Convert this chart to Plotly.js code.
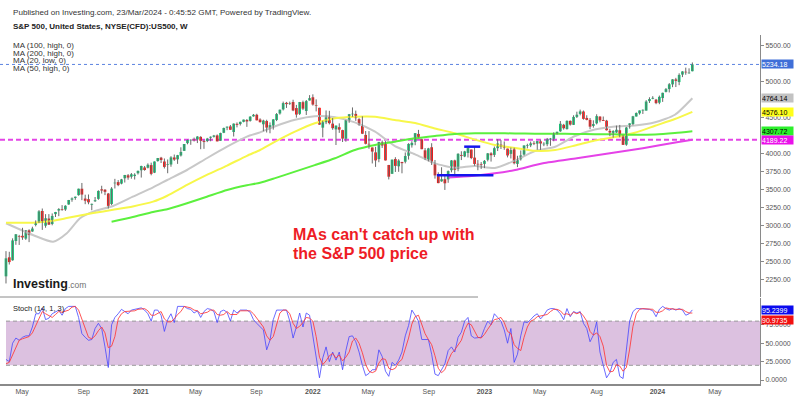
<!DOCTYPE html>
<html><head><meta charset="utf-8">
<script src="https://cdn.plot.ly/plotly-3.0.1.min.js"></script>
<style>html,body{margin:0;padding:0;background:#fff;}#chart{width:800px;height:399px;}</style>
</head><body><div id="chart"></div>
<script>
// ---------- DATA (weekly S&P 500 CFD) ----------
const weeks = [
'2020-03-23','2020-03-30','2020-04-06','2020-04-13','2020-04-20','2020-04-27','2020-05-04','2020-05-11','2020-05-18','2020-05-25','2020-06-01','2020-06-08','2020-06-15','2020-06-22','2020-06-29','2020-07-06','2020-07-13','2020-07-20','2020-07-27','2020-08-03','2020-08-10','2020-08-17','2020-08-24','2020-08-31','2020-09-07','2020-09-14','2020-09-21','2020-09-28','2020-10-05','2020-10-12','2020-10-19','2020-10-26','2020-11-02','2020-11-09','2020-11-16','2020-11-23','2020-11-30','2020-12-07','2020-12-14','2020-12-21','2020-12-28',
'2021-01-04','2021-01-11','2021-01-18','2021-01-25','2021-02-01','2021-02-08','2021-02-15','2021-02-22','2021-03-01','2021-03-08','2021-03-15','2021-03-22','2021-03-29','2021-04-05','2021-04-12','2021-04-19','2021-04-26','2021-05-03','2021-05-10','2021-05-17','2021-05-24','2021-05-31','2021-06-07','2021-06-14','2021-06-21','2021-06-28','2021-07-05','2021-07-12','2021-07-19','2021-07-26','2021-08-02','2021-08-09','2021-08-16','2021-08-23','2021-08-30','2021-09-06','2021-09-13','2021-09-20','2021-09-27','2021-10-04','2021-10-11','2021-10-18','2021-10-25','2021-11-01','2021-11-08','2021-11-15','2021-11-22','2021-11-29','2021-12-06','2021-12-13','2021-12-20','2021-12-27',
'2022-01-03','2022-01-10','2022-01-17','2022-01-24','2022-01-31','2022-02-07','2022-02-14','2022-02-21','2022-02-28','2022-03-07','2022-03-14','2022-03-21','2022-03-28','2022-04-04','2022-04-11','2022-04-18','2022-04-25','2022-05-02','2022-05-09','2022-05-16','2022-05-23','2022-05-30','2022-06-06','2022-06-13','2022-06-20','2022-06-27','2022-07-04','2022-07-11','2022-07-18','2022-07-25','2022-08-01','2022-08-08','2022-08-15','2022-08-22','2022-08-29','2022-09-05','2022-09-12','2022-09-19','2022-09-26','2022-10-03','2022-10-10','2022-10-17','2022-10-24','2022-10-31','2022-11-07','2022-11-14','2022-11-21','2022-11-28','2022-12-05','2022-12-12','2022-12-19','2022-12-26',
'2023-01-02','2023-01-09','2023-01-16','2023-01-23','2023-01-30','2023-02-06','2023-02-13','2023-02-20','2023-02-27','2023-03-06','2023-03-13','2023-03-20','2023-03-27','2023-04-03','2023-04-10','2023-04-17','2023-04-24','2023-05-01','2023-05-08','2023-05-15','2023-05-22','2023-05-29','2023-06-05','2023-06-12','2023-06-19','2023-06-26','2023-07-03','2023-07-10','2023-07-17','2023-07-24','2023-07-31','2023-08-07','2023-08-14','2023-08-21','2023-08-28','2023-09-04','2023-09-11','2023-09-18','2023-09-25','2023-10-02','2023-10-09','2023-10-16','2023-10-23','2023-10-30','2023-11-06','2023-11-13','2023-11-20','2023-11-27','2023-12-04','2023-12-11','2023-12-18','2023-12-25',
'2024-01-01','2024-01-08','2024-01-15','2024-01-22','2024-01-29','2024-02-05','2024-02-12','2024-02-19','2024-02-26','2024-03-04','2024-03-11','2024-03-18'];

const open = [
2291,2555,2514,2782,2845,2854,2815,2930,2914,3005,3038,3199,2994,3094,3018,3155,3205,3224,3219,3289,3356,3380,3419,3508,3371,3363,3285,3334,3367,3500,3494,3441,3296,3583,3600,3579,3653,3694,3675,3684,3723,
3764,3803,3799,3836,3731,3892,3939,3886,3842,3844,3942,3916,3969,4034,4141,4179,4185,4192,4228,4169,4170,4216,4229,4248,4174,4285,4356,4373,4296,4409,4406,4437,4462,4450,4513,4535,4469,4403,4448,4348,4385,4463,4553,4610,4701,4689,4712,4628,4548,4710,4588,4733,
4778,4669,4632,4356,4431,4505,4412,4332,4363,4322,4202,4462,4541,4547,4474,4385,4255,4130,4081,4013,3919,4151,4134,3838,3715,3920,3819,3880,3883,3966,4112,4158,4269,4195,4041,3909,4084,3849,3682,3610,3640,3638,3765,3901,3780,3977,3956,4005,4052,3940,3853,3843,
3853,3910,3999,3978,4071,4120,4097,4065,3992,4055,3853,3917,3982,4102,4110,4140,4134,4166,4124,4126,4190,4201,4282,4305,4396,4337,4450,4395,4506,4547,4580,4491,4464,4380,4416,4510,4462,4453,4311,4284,4289,4320,4238,4120,4364,4406,4511,4555,4594,4593,4725,4758,
4745,4703,4767,4853,4892,4957,5026,4989,5093,5133,5111,5140];

const high = [
2641,2632,2819,2879,2867,2965,2934,2945,2980,3068,3211,3233,3155,3155,3165,3186,3238,3280,3279,3352,3387,3399,3509,3588,3425,3428,3301,3393,3486,3549,3502,3449,3530,3645,3628,3644,3699,3712,3726,3723,3760,
3827,3823,3860,3870,3887,3935,3950,3928,3914,3960,3983,3978,4083,4129,4191,4194,4218,4238,4237,4188,4214,4234,4255,4262,4286,4356,4372,4393,4415,4429,4440,4468,4476,4516,4546,4549,4486,4466,4466,4429,4475,4559,4608,4718,4714,4718,4744,4672,4713,4731,4740,4808,
4819,4749,4632,4453,4595,4590,4489,4385,4416,4327,4465,4546,4637,4593,4488,4513,4309,4308,4081,4090,4158,4178,4169,3838,3913,3946,3918,3880,4012,4140,4168,4280,4325,4203,4073,4076,4140,3907,3736,3806,3686,3762,3905,3911,4001,4028,4034,4100,4052,4101,3906,3878,
3906,4004,4015,4094,4195,4182,4164,4065,4079,4078,3965,4039,4110,4133,4163,4169,4170,4186,4154,4213,4213,4291,4300,4448,4409,4458,4456,4528,4578,4607,4594,4528,4490,4458,4542,4514,4511,4464,4339,4321,4385,4394,4256,4366,4418,4520,4568,4595,4610,4738,4778,4793,
4755,4802,4842,4907,4975,5030,5048,5111,5140,5190,5180,5262];

const low = [
2192,2455,2508,2729,2727,2798,2797,2766,2909,2985,3031,2936,2966,3004,3000,3115,3127,3201,3200,3285,3327,3354,3411,3349,3293,3292,3209,3323,3354,3441,3419,3233,3280,3511,3543,3569,3594,3633,3647,3636,3705,
3663,3758,3790,3694,3725,3884,3865,3789,3723,3813,3894,3853,3955,4034,4125,4118,4164,4142,4057,4062,4155,4167,4219,4165,4174,4280,4321,4326,4233,4360,4386,4430,4367,4440,4509,4457,4428,4306,4289,4278,4329,4447,4537,4595,4630,4672,4585,4495,4532,4600,4532,4733,
4662,4582,4395,4222,4405,4401,4327,4115,4284,4157,4161,4424,4507,4450,4381,4267,4124,4063,3859,3811,3876,4074,3900,3637,3715,3741,3743,3722,3860,3913,4079,4112,4218,4057,3906,3887,3838,3648,3584,3605,3491,3590,3735,3698,3750,3906,3946,3942,3918,3827,3765,3783,
3794,3888,3885,3949,4031,4060,4048,3943,3928,3846,3808,3899,3970,4069,4086,4114,4049,4048,4099,4098,4104,4167,4261,4298,4329,4328,4385,4393,4490,4527,4467,4458,4335,4356,4401,4430,4448,4316,4238,4217,4284,4223,4116,4104,4342,4390,4510,4537,4546,4593,4699,4751,
4682,4682,4714,4845,4845,4918,4920,4946,5058,5091,5105,5138];

const close = [
2541,2489,2790,2875,2837,2831,2930,2864,2955,3044,3194,3041,3098,3009,3130,3185,3225,3216,3271,3351,3373,3397,3508,3427,3341,3319,3298,3348,3477,3483,3465,3270,3510,3585,3558,3638,3699,3663,3709,3703,3756,
3824,3768,3841,3714,3886,3934,3907,3811,3842,3943,3913,3974,4019,4129,4185,4180,4181,4233,4174,4156,4204,4230,4247,4166,4281,4352,4370,4327,4412,4395,4437,4468,4442,4509,4535,4458,4432,4455,4357,4391,4471,4545,4605,4697,4683,4698,4595,4538,4712,4620,4725,4766,
4677,4662,4398,4432,4500,4419,4349,4385,4329,4204,4463,4543,4546,4488,4393,4272,4132,4123,4024,3901,4158,4108,3901,3675,3912,3825,3899,3863,3962,4130,4145,4280,4228,4057,3924,4068,3873,3693,3586,3640,3583,3753,3901,3771,3993,3965,4026,4072,3934,3852,3845,3840,
3895,3999,3973,4071,4136,4090,4079,3970,4045,3862,3917,3971,4109,4105,4138,4133,4169,4136,4124,4192,4205,4282,4299,4410,4348,4450,4399,4505,4536,4582,4478,4464,4370,4406,4516,4457,4450,4320,4288,4309,4327,4224,4117,4358,4415,4514,4559,4595,4604,4719,4754,4770,
4697,4784,4840,4891,4959,5027,5006,5089,5137,5124,5117,5234.18];

// Moving averages at sample dates
const maDates = ['2020-03-23','2020-05-19','2020-07-01','2020-07-30','2020-08-27','2020-09-24','2020-11-05','2020-12-17','2021-01-29','2021-02-28','2021-04-11','2021-05-23','2021-07-05','2021-08-16','2021-09-13','2021-10-15','2021-11-26','2022-01-07','2022-02-19','2022-04-02','2022-05-15','2022-06-26','2022-08-08','2022-09-19','2022-10-31','2022-12-13','2023-01-24','2023-03-08','2023-04-19','2023-06-01','2023-07-13','2023-08-24','2023-10-06','2023-11-17','2023-12-30','2024-02-10','2024-03-18'];
const ma20Low = [3028,2865,2772,2889,3097,3189,3268,3397,3528,3629,3768,3931,4092,4231,4290,4375,4465,4515,4500,4430,4300,4100,3985,3860,3800,3823,3795,3900,4030,4090,4240,4330,4372,4385,4430,4535,4764.14];
const ma50High = [3036,3036,3064,3100,3135,3170,3215,3262,3328,3410,3560,3699,3830,3965,4046,4161,4300,4417,4486,4508,4508,4462,4420,4345,4278,4190,4115,4075,4035,4046,4108,4178,4226,4285,4382,4476,4576.10];
const ma100Dates = ['2020-11-02','2020-12-17','2021-01-29','2021-02-28','2021-04-11','2021-05-23','2021-07-05','2021-08-16','2021-09-13','2021-10-15','2021-11-26','2022-01-07','2022-02-19','2022-04-02','2022-05-15','2022-06-26','2022-08-08','2022-09-19','2022-10-31','2022-12-13','2023-01-24','2023-03-08','2023-04-19','2023-06-01','2023-07-13','2023-08-24','2023-10-06','2023-11-17','2023-12-30','2024-02-10','2024-03-18'];
const ma100High = [3050,3115,3185,3222,3306,3397,3490,3555,3590,3655,3745,3835,3931,4046,4115,4161,4208,4240,4268,4278,4278,4276,4273,4272,4268,4266,4264,4256,4262,4283,4307.72];
const ma200Dates = ['2022-10-17','2022-12-06','2023-01-24','2023-03-08','2023-05-06','2023-07-17','2023-09-25','2023-12-04','2024-02-14','2024-03-18'];
const ma200High = [3665,3685,3722,3768,3861,3931,4000,4070,4153,4189.22];

// Stochastic (14,1,3)
const stochK = [
28,25,50,57,54,58,60,60,72,90, 90,98,82,84,90,93,95,88,97,100, 100,100,85,63,58,54,55,70,77,70,
45,17,75,85,90,96,93,90,95,96, 98,98,95,90,80,95,95,88,66,82, 90,78,100,100,100,97,96,91,94,85,
93,97,96,93,78,93,95,92,80,95, 91,95,95,95,92,82,77,72,68,41, 54,82,95,95,95,95,80,57,72,91,
72,91,88,60,30,3,30,45,25,38, 27,38,14,40,59,60,52,38,20,6, 9,14,14,41,32,12,5,24,20,27,
38,60,74,95,88,80,55,55,55,35, 8,6,15,22,40,45,38,58,65,80, 85,60,57,57,58,70,80,75,90,85,
80,68,50,70,24,35,60,79,78,82, 87,90,83,88,95,97,97,95,90,82, 97,86,93,91,93,77,70,52,61,79,
38,20,3,10,24,28,5,2,45,80, 93,97,97,97,97,96,94,86,96,100, 97,95,97,95,97,95,88,90,95.2399];
const stochD = [
22,24,34,44,54,56,57,59,64,74, 84,93,90,88,85,89,93,92,93,95, 99,100,95,83,69,58,56,60,67,72,
64,44,46,59,83,90,93,93,93,94, 96,97,97,94,88,88,90,93,83,79, 79,83,89,93,100,99,98,95,94,90,
91,92,95,95,89,88,89,93,89,89, 89,94,94,95,94,90,84,77,72,60, 54,59,77,91,95,95,90,77,70,73,
78,85,84,80,59,31,21,26,33,36, 30,34,26,31,38,53,57,50,37,21, 12,10,12,23,29,28,16,14,16,24,
28,42,57,76,86,88,74,63,55,48, 33,16,10,14,26,36,41,47,54,68, 77,75,67,58,57,62,69,75,82,83,
85,78,66,63,48,43,40,58,72,80, 82,86,87,87,89,93,96,96,94,89, 90,88,92,90,92,87,80,66,61,64,
59,46,20,11,12,21,19,12,17,42, 73,90,96,97,97,97,96,92,92,94, 98,97,96,96,96,96,93,91,90.9735];
const stochBands = [20, 80];

// Hand-drawn blue levels on the chart
const drawnStart = ['2022-11-20','2022-09-23'];
const drawnEnd   = ['2022-12-24','2023-01-21'];
const drawnLevel = [4092, 3694];

// Axis ticks (labels hidden behind the value boxes in the reference are left out)
const priceTicks = [2250,2500,2750,3000,3250,3500,3750,4000,4500,5000,5500];
const stochTicks = [0,25,50,75];
const timeTickVals = ['2020-04-26','2020-09-04','2021-01-03','2021-04-29','2021-09-05','2022-01-03','2022-04-30','2022-09-06','2023-01-02','2023-04-29','2023-08-28','2024-01-04','2024-05-05'];
const timeTickText = ['May','Sep','<b>2021</b>','May','Sep','<b>2022</b>','May','Sep','<b>2023</b>','May','Aug','<b>2024</b>','May'];

// ---------- BUILD ----------
const xRange = ['2020-03-10 07:00','2024-08-08 12:00'];
const UP = '#12c878', DOWN = '#ff1010', WICK = '#6a6a6a';
const PX = 183280000; // ms per pixel on time axis (layout helper for bar widths)

const wx = [], wy = [];
weeks.forEach((d, i) => { wx.push(d, d, null); wy.push(low[i], high[i], null); });
const bodyBase = open.map((o, i) => Math.min(o, close[i]));
const bodyLen = open.map((o, i) => Math.max(Math.abs(close[i] - o), 9));
const bodyCol = open.map((o, i) => close[i] >= o ? UP : DOWN);

const line = (x, y, color, w, extra) => Object.assign({
  type: 'scatter', mode: 'lines', x, y, xaxis: 'x', yaxis: 'y', hoverinfo: 'skip',
  line: {color, width: w, shape: 'spline', smoothing: 0.6}
}, extra || {});

const traces = [
  line(maDates, ma20Low, '#c8c8c8', 2),
  line(maDates, ma50High, '#f7f74a', 2),
  line(ma100Dates, ma100High, '#5cf03e', 2),
  line(ma200Dates, ma200High, '#e542e8', 2),
  {type: 'scatter', mode: 'lines', x: wx, y: wy, xaxis: 'x', yaxis: 'y', hoverinfo: 'skip',
   line: {color: WICK, width: 1}, connectgaps: false},
  {type: 'bar', x: weeks, y: bodyLen, base: bodyBase, width: 2.7 * PX, xaxis: 'x', yaxis: 'y', hoverinfo: 'skip',
   marker: {color: bodyCol, line: {width: 0}}},
  {type: 'scatter', mode: 'lines', x: weeks, y: stochK, xaxis: 'x2', yaxis: 'y2', hoverinfo: 'skip',
   line: {color: 'rgba(70,70,255,0.8)', width: 1}},
  {type: 'scatter', mode: 'lines', x: weeks, y: stochD, xaxis: 'x2', yaxis: 'y2', hoverinfo: 'skip',
   line: {color: 'rgba(255,55,55,0.85)', width: 1}}
];

const lastClose = close[close.length - 1];
const shapes = [
  {type: 'rect', xref: 'x2', yref: 'y2', x0: weeks[0], x1: xRange[1], y0: stochBands[0], y1: stochBands[1],
   fillcolor: '#dcc1e0', line: {width: 0}, layer: 'below'},
  {type: 'line', xref: 'x2', yref: 'y2', x0: weeks[0], x1: xRange[1], y0: stochBands[0], y1: stochBands[0],
   line: {color: '#9a9a9a', width: 1, dash: '4px,3px'}, layer: 'below'},
  {type: 'line', xref: 'x2', yref: 'y2', x0: weeks[0], x1: xRange[1], y0: stochBands[1], y1: stochBands[1],
   line: {color: '#9a9a9a', width: 1, dash: '4px,3px'}, layer: 'below'},
  {type: 'line', xref: 'paper', yref: 'y', x0: 0, x1: 1, y0: lastClose, y1: lastClose,
   line: {color: '#5a82e0', width: 1, dash: 'dot'}, layer: 'below'},
  {type: 'line', xref: 'paper', yref: 'y', x0: 0, x1: 1, y0: ma200High[ma200High.length - 1], y1: ma200High[ma200High.length - 1],
   line: {color: '#e444e6', width: 2, dash: '5px,3px'}, layer: 'below'},
  {type: 'line', xref: 'paper', yref: 'paper', x0: 0, x1: 478 / 760, y0: 87 / 384, y1: 87 / 384,
   line: {color: '#8a8a8a', width: 1}}
];
drawnLevel.forEach((lv, i) => shapes.push({type: 'line', xref: 'x', yref: 'y', x0: drawnStart[i], x1: drawnEnd[i], y0: lv, y1: lv,
  line: {color: '#1414ee', width: 2.5}}));

const FONT = 'Arial, "Liberation Sans", sans-serif';
const ann = [];
const txt = (text, px, py, size, color, extra) => ann.push(Object.assign({
  text, x: px / 760, y: (384 - py) / 384, xref: 'paper', yref: 'paper', xanchor: 'left', yanchor: 'middle',
  showarrow: false, font: {family: FONT, size, color}
}, extra || {}));
txt('Published on Investing.com, 23/Mar/2024 - 0:45:52 GMT, Powered by TradingView.', 11, 13, 8.1, '#333');
txt('<b>S&P 500, United States, NYSE(CFD):US500, W</b>', 11, 26, 8.0, '#222');
txt('MA (100, high, 0)', 11, 45.6, 8, '#333');
txt('MA (200, high, 0)', 11, 53.3, 8, '#333');
txt('MA (20, low, 0)', 11, 61, 8, '#333');
txt('MA (50, high, 0)', 11, 68.6, 8, '#333');
txt('<b>MAs can\'t catch up with</b>', 291, 234.5, 16, '#ee1c25');
txt('<b>the S&P 500 price</b>', 291, 253.5, 16, '#ee1c25');
txt('<b>Investing</b><span style="font-size:8.5px;color:#707070">.com</span>', 11, 284, 12.5, '#1a1a1a');
txt('Stoch (14, 1, 3)', 11, 308.3, 7.5, '#222');

const boxes = [
  {v: lastClose, d: 2, bg: '#3f6fd8', fc: '#fff', yref: 'y', sh: 0},
  {v: ma20Low[ma20Low.length - 1], d: 2, bg: '#c2c2c2', fc: '#000', yref: 'y', sh: 0},
  {v: ma50High[ma50High.length - 1], d: 2, bg: '#ffff1a', fc: '#000', yref: 'y', sh: 0},
  {v: ma100High[ma100High.length - 1], d: 2, bg: '#2cf02c', fc: '#000', yref: 'y', sh: 0},
  {v: ma200High[ma200High.length - 1], d: 2, bg: '#ea10ea', fc: '#fff', yref: 'y', sh: 0},
  {v: stochK[stochK.length - 1], d: 4, bg: '#0a0aee', fc: '#fff', yref: 'y2', sh: 0},
  {v: stochD[stochD.length - 1], d: 4, bg: '#f21010', fc: '#fff', yref: 'y2', sh: -7}
];
boxes.forEach(b => ann.push({
  text: b.v.toFixed(b.d), x: 1, xref: 'paper', xanchor: 'left', xshift: 1, y: b.v, yref: b.yref, yanchor: 'middle', yshift: b.sh,
  showarrow: false, bgcolor: b.bg, font: {family: FONT, size: 7, color: b.fc}, width: 31, height: 8, align: 'left', borderpad: 0
}));

const layout = {
  width: 800, height: 399,
  margin: {l: 0, r: 40, t: 0, b: 15, pad: 0},
  paper_bgcolor: '#ffffff', plot_bgcolor: '#ffffff',
  showlegend: false, barmode: 'overlay', dragmode: false,
  font: {family: FONT, size: 7, color: '#555'},
  xaxis: {type: 'date', domain: [0, 1], range: xRange, anchor: 'y', showticklabels: false, showgrid: false,
          zeroline: false, showline: false, ticks: '', fixedrange: true},
  yaxis: {domain: [87 / 384, 349 / 384], range: [2004, 5643], side: 'right', anchor: 'x', tickvals: priceTicks,
          tickformat: '.2f', showgrid: false, zeroline: false, showline: true, linecolor: '#8a8a8a', linewidth: 1,
          ticks: 'outside', ticklen: 3, tickcolor: '#8a8a8a', tickfont: {family: FONT, size: 7, color: '#555'}, fixedrange: true},
  xaxis2: {type: 'date', domain: [0, 1], range: xRange, anchor: 'y2', matches: 'x', tickmode: 'array',
           tickvals: timeTickVals, ticktext: timeTickText, showgrid: false, zeroline: false, showline: true,
           linecolor: '#8a8a8a', linewidth: 1.5, ticks: '', tickfont: {family: FONT, size: 7, color: '#555'}, fixedrange: true},
  yaxis2: {domain: [0, 86 / 384], range: [-5.4, 111.4], side: 'right', anchor: 'x2', tickvals: stochTicks,
           tickformat: '.4f', showgrid: false, zeroline: false, showline: true, linecolor: '#8a8a8a', linewidth: 1,
           ticks: 'outside', ticklen: 3, tickcolor: '#8a8a8a', tickfont: {family: FONT, size: 7, color: '#555'}, fixedrange: true},
  shapes, annotations: ann
};

Plotly.newPlot('chart', traces, layout, {displayModeBar: false, staticPlot: true});
</script>
</body></html>
